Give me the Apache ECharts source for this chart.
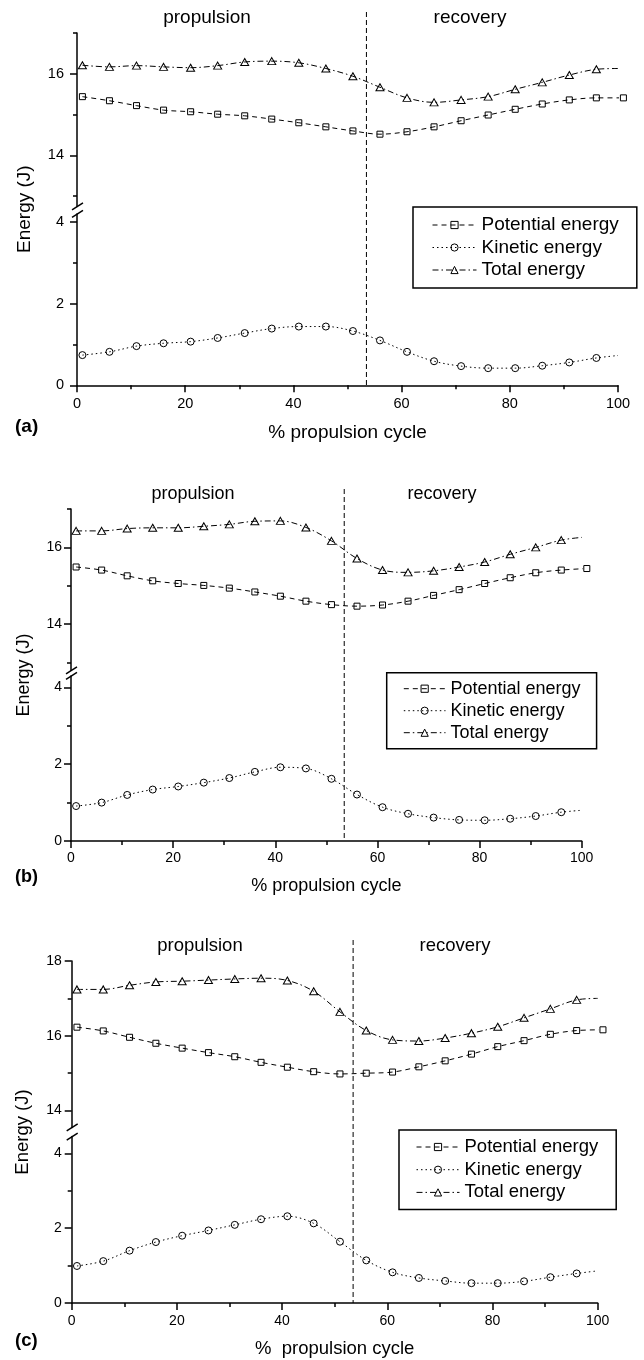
<!DOCTYPE html>
<html>
<head>
<meta charset="utf-8">
<script src="https://cdn.jsdelivr.net/npm/echarts@6/dist/echarts.min.js"></script>
<style>
  html, body { margin: 0; padding: 0; background: #fff; }
  #chart { width: 644px; height: 1360px; }
</style>
</head>
<body>
<div id="chart"></div>
<script>
// % of propulsion cycle at each plotted marker
const cycle = [1, 6, 11, 16, 21, 26, 31, 36, 41, 46, 51, 56, 61, 66, 71, 76, 81, 86, 91, 96];
const cycleEndPotential = 101;   // potential energy carries one more marker
const cycleEndCurve = 100;       // kinetic / total curves end here without a marker
const phaseBoundary = 53.5;      // propulsion -> recovery

// (a)
const potentialA = [15.44, 15.34, 15.22, 15.11, 15.07, 15.01, 14.97, 14.89, 14.80, 14.70, 14.60, 14.52, 14.58, 14.70, 14.85, 14.99, 15.13, 15.26, 15.36, 15.41, 15.41];
const kineticA   = [0.74, 0.82, 0.96, 1.03, 1.07, 1.16, 1.28, 1.39, 1.44, 1.44, 1.33, 1.10, 0.82, 0.59, 0.47, 0.42, 0.42, 0.48, 0.56, 0.67, 0.73];
const totalA     = [16.21, 16.17, 16.20, 16.17, 16.15, 16.20, 16.29, 16.31, 16.27, 16.13, 15.94, 15.67, 15.41, 15.30, 15.36, 15.44, 15.62, 15.79, 15.97, 16.11, 16.13];
// (b)
const potentialB = [15.49, 15.41, 15.26, 15.13, 15.06, 15.01, 14.94, 14.84, 14.73, 14.60, 14.51, 14.47, 14.50, 14.60, 14.75, 14.90, 15.06, 15.21, 15.34, 15.41, 15.45];
const kineticB   = [0.91, 1.00, 1.20, 1.34, 1.42, 1.52, 1.64, 1.80, 1.92, 1.89, 1.62, 1.21, 0.88, 0.71, 0.61, 0.55, 0.54, 0.58, 0.65, 0.75, 0.80];
const totalB     = [16.43, 16.43, 16.49, 16.51, 16.51, 16.55, 16.60, 16.68, 16.69, 16.52, 16.17, 15.71, 15.41, 15.35, 15.39, 15.49, 15.62, 15.82, 16.00, 16.19, 16.26];
// (c)
const potentialC = [16.23, 16.13, 15.96, 15.80, 15.67, 15.55, 15.44, 15.29, 15.16, 15.04, 14.98, 15.00, 15.03, 15.17, 15.33, 15.51, 15.71, 15.87, 16.04, 16.14, 16.16];
const kineticC   = [0.99, 1.12, 1.40, 1.63, 1.80, 1.94, 2.09, 2.24, 2.32, 2.13, 1.64, 1.14, 0.82, 0.67, 0.59, 0.53, 0.53, 0.58, 0.69, 0.79, 0.86];
const totalC     = [17.24, 17.24, 17.35, 17.44, 17.46, 17.49, 17.52, 17.54, 17.48, 17.19, 16.64, 16.14, 15.89, 15.86, 15.94, 16.07, 16.24, 16.48, 16.72, 16.96, 17.00];

// axis ranges and tick values (broken energy axis: upper part / lower part)
const upperRangeA = [12.75, 17], lowerRangeA = [0, 4.2];
const upperRangeB = [12.8, 17],  lowerRangeB = [0, 4.3];
const upperRangeC = [13.55, 18], lowerRangeC = [0, 4.45];
const upperMajorAB = [14, 16], upperMinorAB = [13, 15, 17];
const upperMajorC = [14, 16, 18], upperMinorC = [15, 17];
const lowerMajor = [0, 2, 4], lowerMinor = [1, 3];
const xRange = [0, 100], xStep = 20;

const seriesNames = ['Potential energy', 'Kinetic energy', 'Total energy'];
const phaseNames = ['propulsion', 'recovery'];
const yTitle = 'Energy (J)';

const FONT = '"Liberation Sans", Arial, Helvetica, sans-serif';

// layout of the three stacked panels
const panels = [
  { tag: '(a)', xName: '% propulsion cycle', pe: potentialA, ke: kineticA, te: totalA,
    upper: upperRangeA, lower: lowerRangeA, upMajor: upperMajorAB, upMinor: upperMinorAB,
    left: 77, width: 541, upTop: 33, upH: 173.4, loTop: 213.9, loH: 171.4,
    tickFont: 14.5, textFont: 19, yMargin: 13, xMargin: 11,
    lineTop: 12, phaseY: 18, phaseX: [207, 470], yTitleX: 25, tagY: 427, xNameY: 433,
    legend: { left: 413, top: 207, padding: [8, 18, 8, 19], itemWidth: 44, lineHeight: 20, gap: 2.5 } },
  { tag: '(b)', xName: '% propulsion cycle', pe: potentialB, ke: kineticB, te: totalB,
    upper: upperRangeB, lower: lowerRangeB, upMajor: upperMajorAB, upMinor: upperMinorAB,
    left: 71, width: 510.7, upTop: 509, upH: 161.3, loTop: 675.9, loH: 165.1,
    tickFont: 14, textFont: 18, yMargin: 9, xMargin: 10,
    lineTop: 489, phaseY: 494, phaseX: [193, 442], yTitleX: 24, tagY: 877, xNameY: 886,
    legend: { left: 386.7, top: 672.7, padding: [6, 16, 6, 16.6], itemWidth: 41.7, lineHeight: 20, gap: 2 } },
  { tag: '(c)', xName: '%  propulsion cycle', pe: potentialC, ke: kineticC, te: totalC,
    upper: upperRangeC, lower: lowerRangeC, upMajor: upperMajorC, upMinor: upperMinorC,
    left: 71.7, width: 526, upTop: 961, upH: 166.4, loTop: 1136.6, loH: 166.4,
    tickFont: 14, textFont: 18.5, yMargin: 10, xMargin: 11,
    lineTop: 940, phaseY: 946, phaseX: [200, 455], yTitleX: 23, tagY: 1341, xNameY: 1349,
    legend: { left: 399, top: 1130, padding: [7, 18, 7, 17], itemWidth: 43, lineHeight: 20, gap: 2.7 } }
];

const INK = '#000';
const styles = [
  { symbol: 'rect', size: 6, dash: [5, 4] },
  { symbol: 'circle', size: 7, dash: [1.5, 3] },
  { symbol: 'triangle', size: [8, 7], dash: [6, 3, 1.5, 3] }
];

const grid = [], xAxis = [], yAxis = [], series = [], legend = [];

function mainY(gridIndex, range, major, p) {
  return {
    type: 'value', gridIndex, min: range[0], max: range[1], position: 'left',
    axisLine: { show: true, onZero: false, lineStyle: { color: INK, width: 1.5 } },
    axisTick: { show: true, inside: false, length: 7, customValues: major, lineStyle: { color: INK, width: 1.5 } },
    axisLabel: { show: true, customValues: major, color: INK, fontSize: p.tickFont, fontFamily: FONT, margin: p.yMargin },
    splitLine: { show: false }
  };
}
function minorY(gridIndex, range, minor) {
  return {
    type: 'value', gridIndex, min: range[0], max: range[1], position: 'left',
    axisLine: { show: false },
    axisTick: { show: true, inside: false, length: 4, customValues: minor, lineStyle: { color: INK, width: 1.5 } },
    axisLabel: { show: false },
    splitLine: { show: false }
  };
}
function pairs(xs, ys) { return xs.map((x, i) => [x, ys[i]]); }

panels.forEach((p, k) => {
  const gU = 2 * k, gL = 2 * k + 1;
  const right = 644 - p.left - p.width;
  grid.push({ left: p.left, right, top: p.upTop, height: p.upH, containLabel: false, outerBoundsMode: 'none' });
  grid.push({ left: p.left, right, top: p.loTop, height: p.loH, containLabel: false, outerBoundsMode: 'none' });

  xAxis.push({ type: 'value', gridIndex: gU, min: xRange[0], max: xRange[1], show: false });
  xAxis.push({
    type: 'value', gridIndex: gL, min: xRange[0], max: xRange[1], interval: xStep,
    axisLine: { show: true, onZero: false, lineStyle: { color: INK, width: 1.5 } },
    axisTick: { show: true, inside: false, length: 7, lineStyle: { color: INK, width: 1.5 } },
    minorTick: { show: true, splitNumber: 2, length: 4, lineStyle: { color: INK, width: 1.5 } },
    axisLabel: { color: INK, fontSize: p.tickFont, fontFamily: FONT, margin: p.xMargin },
    splitLine: { show: false }, minorSplitLine: { show: false }
  });

  const yBase = 4 * k;
  yAxis.push(mainY(gU, p.upper, p.upMajor, p));
  yAxis.push(minorY(gU, p.upper, p.upMinor));
  yAxis.push(mainY(gL, p.lower, lowerMajor, p));
  yAxis.push(minorY(gL, p.lower, lowerMinor));

  const xsPE = cycle.concat([cycleEndPotential]);
  const xsCurve = cycle.concat([cycleEndCurve]);
  const data = [
    pairs(xsPE, p.pe),
    pairs(xsCurve, p.ke),
    pairs(xsCurve, p.te)
  ];
  // last point of kinetic / total curves has no marker
  [1, 2].forEach(s => {
    const last = data[s].length - 1;
    data[s][last] = { value: data[s][last], symbol: 'none' };
  });
  const axes = [[2 * k, yBase], [2 * k + 1, yBase + 2], [2 * k, yBase]];
  seriesNames.forEach((name, s) => {
    series.push({
      name, type: 'line', xAxisIndex: axes[s][0], yAxisIndex: axes[s][1],
      data: data[s], smooth: 0.35, clip: false,
      symbol: styles[s].symbol, symbolSize: styles[s].size, showAllSymbol: true,
      itemStyle: { color: 'rgba(0,0,0,0)', borderColor: INK, borderWidth: 1 },
      lineStyle: { color: INK, width: 1, type: styles[s].dash },
      emphasis: { disabled: true }, z: 3
    });
  });

  const L = p.legend;
  legend.push({
    data: seriesNames, orient: 'vertical', left: L.left, top: L.top,
    padding: L.padding, itemGap: L.gap, itemWidth: L.itemWidth, itemHeight: 9,
    borderColor: INK, borderWidth: 1.5, backgroundColor: '#fff',
    selectedMode: false,
    textStyle: { color: INK, fontSize: p.textFont, fontFamily: FONT, lineHeight: L.lineHeight },
    lineStyle: { type: 'inherit', width: 1, color: INK },
    itemStyle: { borderColor: INK, borderWidth: 1 }
  });
});

const chart = echarts.init(document.getElementById('chart'), null, { renderer: 'canvas' });
chart.setOption({
  animation: false,
  backgroundColor: '#fff',
  textStyle: { fontFamily: FONT, color: INK },
  grid, xAxis, yAxis, series, legend
});

// phase separator, axis breaks and panel texts placed from the axis scales
const graphic = [];
panels.forEach((p, k) => {
  const xLo = 2 * k + 1, yUp = 4 * k, yLo = 4 * k + 2;
  const xPhase = chart.convertToPixel({ xAxisIndex: xLo }, phaseBoundary);
  const yZero = chart.convertToPixel({ yAxisIndex: yLo }, p.lower[0]);
  const xOrigin = chart.convertToPixel({ xAxisIndex: xLo }, xRange[0]);
  const yBreakUp = chart.convertToPixel({ yAxisIndex: yUp }, p.upper[0]);
  const yBreakLo = chart.convertToPixel({ yAxisIndex: yLo }, p.lower[1]);

  graphic.push({
    type: 'line', z: 5,
    shape: { x1: xPhase, y1: p.lineTop, x2: xPhase, y2: yZero },
    style: { stroke: INK, lineWidth: 1, lineDash: [5, 3] }
  });
  [yBreakUp, yBreakLo].forEach(yb => {
    graphic.push({
      type: 'line', z: 6,
      shape: { x1: xOrigin - 5, y1: yb + 3.5, x2: xOrigin + 6, y2: yb - 3.5 },
      style: { stroke: INK, lineWidth: 1.5 }
    });
  });
  phaseNames.forEach((t, i) => {
    graphic.push({
      type: 'text', x: p.phaseX[i], y: p.phaseY, z: 6,
      style: { text: t, fontSize: p.textFont, fontFamily: FONT, fill: INK, align: 'center', verticalAlign: 'middle' }
    });
  });
  graphic.push({
    type: 'text', x: p.yTitleX, y: (p.upTop + p.loTop + p.loH) / 2, rotation: Math.PI / 2, z: 6,
    style: { text: yTitle, fontSize: p.textFont, fontFamily: FONT, fill: INK, align: 'center', verticalAlign: 'middle' }
  });
  graphic.push({
    type: 'text', x: 15, y: p.tagY, z: 6,
    style: { text: p.tag, fontSize: p.textFont, fontWeight: 'bold', fontFamily: FONT, fill: INK, align: 'left', verticalAlign: 'middle' }
  });
  graphic.push({
    type: 'text', x: p.left + p.width / 2, y: p.xNameY, z: 6,
    style: { text: p.xName, fontSize: p.textFont, fontFamily: FONT, fill: INK, align: 'center', verticalAlign: 'middle' }
  });
});
chart.setOption({ graphic });
</script>
</body>
</html>
